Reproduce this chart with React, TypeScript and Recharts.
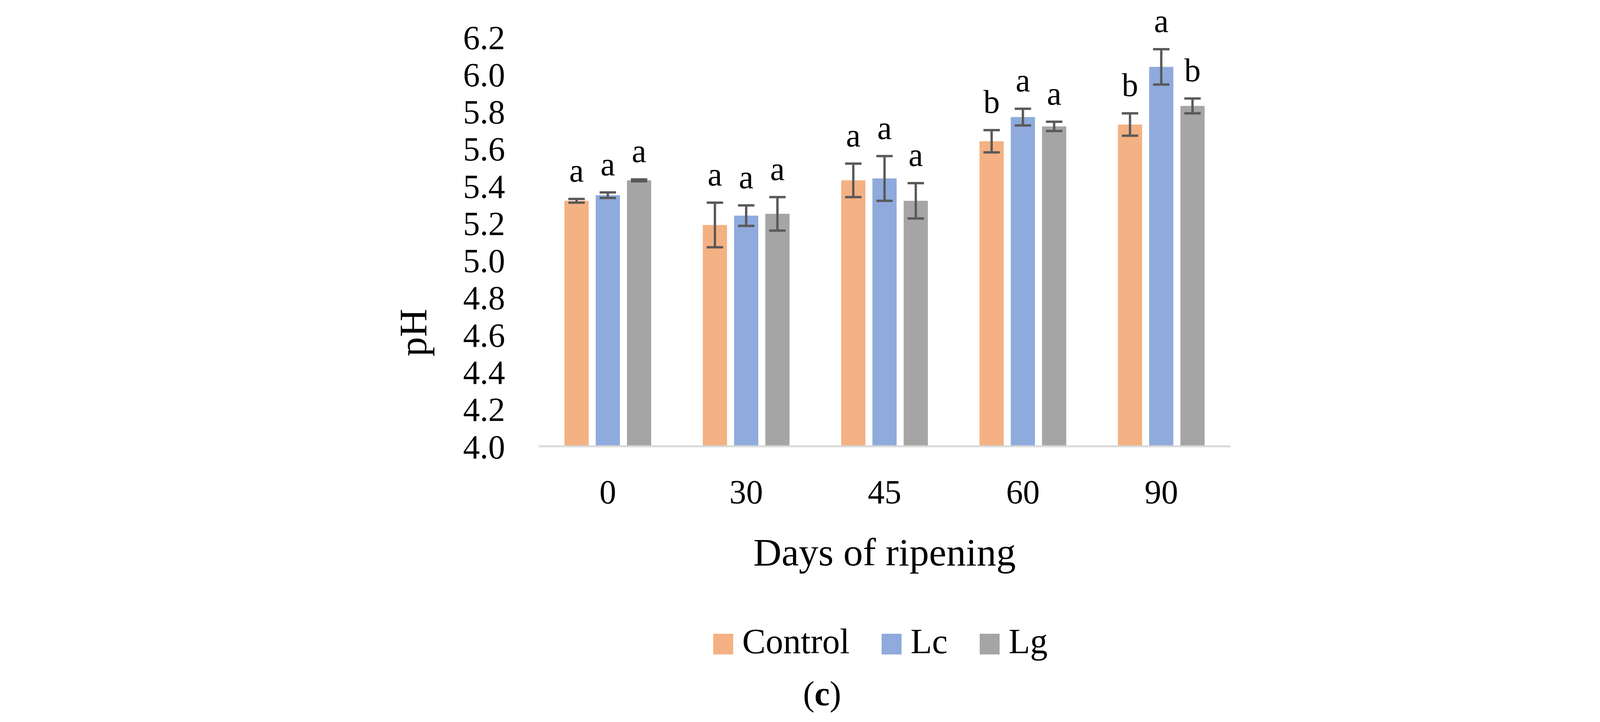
import React from "react";
import {
  BarChart,
  Bar,
  XAxis,
  YAxis,
  ErrorBar,
  LabelList,
  Legend,
  Label,
} from "recharts";

const FONT = '"Liberation Serif", "Times New Roman", serif';

const days = ["0", "30", "45", "60", "90"];

const controlPH = [5.32, 5.19, 5.43, 5.64, 5.73];
const lcPH = [5.35, 5.24, 5.44, 5.77, 6.04];
const lgPH = [5.43, 5.25, 5.32, 5.72, 5.83];

const controlSD = [0.01, 0.12, 0.09, 0.06, 0.06];
const lcSD = [0.015, 0.055, 0.12, 0.045, 0.095];
const lgSD = [0.005, 0.09, 0.095, 0.025, 0.04];

const controlSig = ["a", "a", "a", "b", "b"];
const lcSig = ["a", "a", "a", "a", "a"];
const lgSig = ["a", "a", "a", "a", "b"];

const yTicks = [4.0, 4.2, 4.4, 4.6, 4.8, 5.0, 5.2, 5.4, 5.6, 5.8, 6.0, 6.2];
const Y_MIN = 4.0;
const Y_MAX = 6.2;

const data = days.map((day, i) => ({
  day,
  control: controlPH[i],
  lc: lcPH[i],
  lg: lgPH[i],
  controlErr: controlSD[i],
  lcErr: lcSD[i],
  lgErr: lgSD[i],
  controlSig: controlSig[i],
  lcSig: lcSig[i],
  lgSig: lgSig[i],
}));

// letter sits a little above the top of the error bar
const sigLabel = (values: number[], errs: number[]) => (props: any) => {
  const vb = props.viewBox ?? props;
  const { x, y, width, height } = vb;
  const i = props.index;
  if (i == null || !height) return null;
  const pxPerUnit = height / (values[i] - Y_MIN);
  const errTop = y - errs[i] * pxPerUnit;
  return (
    <text
      x={x + width / 2}
      y={errTop - 44}
      textAnchor="middle"
      fontSize={84}
      fontFamily={FONT}
      fill="#000"
    >
      {props.value}
    </text>
  );
};

const renderLegend = ({ payload }: any) => (
  <div style={{ display: "flex", alignItems: "flex-start", fontFamily: FONT }}>
    {(payload || []).map((p: any, i: number) => (
      <div
        key={p.value}
        style={{
          display: "flex",
          alignItems: "flex-start",
          marginLeft: i === 0 ? 0 : 82,
        }}
      >
        <span
          style={{
            display: "inline-block",
            width: 51,
            height: 53,
            marginTop: 25,
            background: p.color,
          }}
        />
        <span
          style={{
            marginLeft: 23,
            fontSize: 90,
            lineHeight: "90px",
            color: "#000",
          }}
        >
          {p.value}
        </span>
      </div>
    ))}
  </div>
);

export default function App() {
  return (
    <div
      style={{
        position: "relative",
        width: 4209,
        height: 1849,
        background: "#fff",
        fontFamily: FONT,
      }}
    >
      <style>{`body{margin:0}`}</style>
      <BarChart
        width={4209}
        height={1849}
        data={data}
        margin={{ top: 95, right: 1059, bottom: 556, left: 1179 }}
        barSize={62}
        barGap={18}
      >
        <XAxis
          dataKey="day"
          interval={0}
          height={150}
          axisLine={{ stroke: "#D9D9D9", strokeWidth: 5 }}
          tickLine={false}
          tickSize={0}
          tickMargin={85}
          tick={{ fill: "#000", fontSize: 86, fontFamily: FONT }}
        >
          <Label
            content={(p: any) => {
              const vb = p.viewBox;
              return (
                <text
                  x={vb.x + vb.width / 2}
                  y={vb.y + 305}
                  textAnchor="middle"
                  fontSize={100}
                  fontFamily={FONT}
                  fill="#000"
                >
                  Days of ripening
                </text>
              );
            }}
          />
        </XAxis>
        <YAxis
          width={200}
          domain={[Y_MIN, Y_MAX]}
          ticks={yTicks}
          interval={0}
          allowDataOverflow
          axisLine={false}
          tickLine={false}
          tickSize={0}
          tickMargin={86}
          tickFormatter={(v: number) => v.toFixed(1)}
          tick={{ fill: "#000", fontSize: 86, fontFamily: FONT }}
        >
          <Label
            content={(p: any) => {
              const vb = p.viewBox;
              const x = vb.x - 88;
              const y = vb.y + vb.height - 291;
              return (
                <text
                  x={x}
                  y={y}
                  transform={`rotate(-90, ${x}, ${y})`}
                  textAnchor="middle"
                  fontSize={100}
                  fontFamily={FONT}
                  fill="#000"
                >
                  pH
                </text>
              );
            }}
          />
        </YAxis>
        <Legend
          layout="horizontal"
          verticalAlign="middle"
          align="center"
          content={renderLegend}
          wrapperStyle={{ left: 1826, top: 1598, width: "auto" }}
        />
        <Bar dataKey="control" name="Control" fill="#F4B183" isAnimationActive={false}>
          <ErrorBar dataKey="controlErr" width={21} stroke="#595959" strokeWidth={6} direction="y" />
          <LabelList dataKey="controlSig" content={sigLabel(controlPH, controlSD)} />
        </Bar>
        <Bar dataKey="lc" name="Lc" fill="#8FAADC" isAnimationActive={false}>
          <ErrorBar dataKey="lcErr" width={21} stroke="#595959" strokeWidth={6} direction="y" />
          <LabelList dataKey="lcSig" content={sigLabel(lcPH, lcSD)} />
        </Bar>
        <Bar dataKey="lg" name="Lg" fill="#A5A5A5" isAnimationActive={false}>
          <ErrorBar dataKey="lgErr" width={21} stroke="#595959" strokeWidth={6} direction="y" />
          <LabelList dataKey="lgSig" content={sigLabel(lgPH, lgSD)} />
        </Bar>
      </BarChart>
      <div
        style={{
          position: "absolute",
          left: 0,
          top: 1733,
          width: 4209,
          textAlign: "center",
          fontSize: 88,
          lineHeight: "88px",
          color: "#000",
        }}
      >
        (<b>c</b>)
      </div>
    </div>
  );
}
